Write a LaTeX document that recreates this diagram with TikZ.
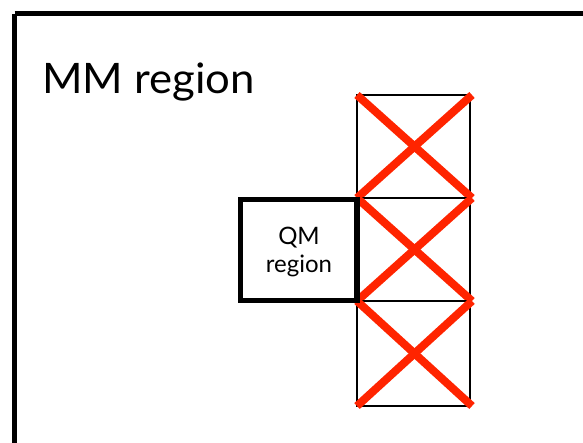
\documentclass[tikz,border=0pt]{standalone}
\usepackage{fontspec}
\setmainfont{Lato}
\definecolor{crossred}{HTML}{FF2400}
\begin{document}
\begin{tikzpicture}[x=1pt,y=-1pt,
  outerbox/.style={draw=black,line width=5pt},
  qmbox/.style={draw=black,line width=5.5pt},
  cellbox/.style={draw=black,line width=2pt},
  crossline/.style={draw=crossred,line width=8pt},
  bigtext/.style={font=\fontsize{42}{50}\selectfont,inner sep=0pt},
  smalltext/.style={font=\fontsize{24}{28}\selectfont,align=center,inner sep=0pt}]
\useasboundingbox (0,0) rectangle (583,442);
% outer MM area, running off the right and bottom edges
\draw[outerbox] (14.5,13.5) -- (600,13.5) (14.5,13.5) -- (14.5,460);
\node[bigtext,anchor=base west,xscale=1.04] (mm) at (42,93) {MM region};
% three boundary cells with red crosses
\foreach \i/\t/\b in {1/95/198,2/198/301,3/301/406}{
  \coordinate (c\i tl) at (357,\t);
  \coordinate (c\i br) at (470,\b);
  \draw[cellbox] (c\i tl) rectangle (c\i br);
  \draw[crossline] (357,\t) -- (472,\b);
  \draw[crossline] (472,\t) -- (357,\b);
}
% QM region box
\draw[qmbox] (240.5,199.5) rectangle (357,300.5);
\node[smalltext] (qm) at (299,252) {QM\\region};
\end{tikzpicture}
\end{document}
